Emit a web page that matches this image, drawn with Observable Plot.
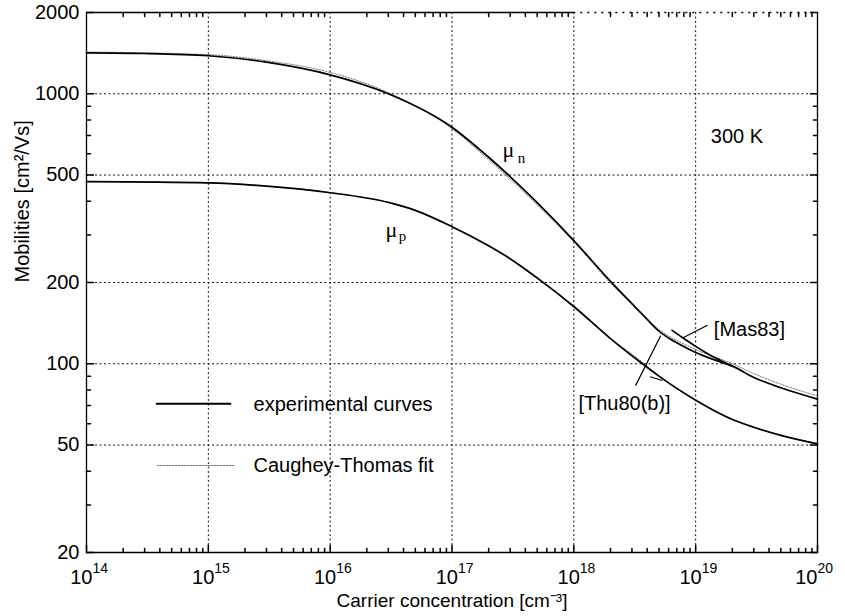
<!DOCTYPE html>
<html>
<head>
<meta charset="utf-8">
<script src="https://cdn.jsdelivr.net/npm/d3@7"></script>
<script src="https://cdn.jsdelivr.net/npm/@observablehq/plot@0.6"></script>
<style>
  html, body { margin: 0; padding: 0; background: #fff; }
  #chart svg { display: block; }
</style>
</head>
<body>
<div id="chart"></div>
<script>
// Electron mobility, experimental curve [Thu80(b)] (cm^2/Vs) vs carrier concentration (cm^-3)
const electronConc = [1e14, 3e14, 1e15, 3e15, 1e16, 3e16, 1e17, 2e17, 5e17, 1e18, 2e18, 3e18, 4e18, 5e18, 6e18, 7.5e18, 1e19, 1.6e19, 2e19, 3e19, 5e19, 1e20];
const electronMu   = [1417, 1410, 1383, 1309, 1175, 1000, 752, 582, 395, 286, 202, 167, 146, 132, 124.5, 117.5, 110, 101.5, 98, 89, 81.5, 74];

// Electron mobility, experimental curve [Mas83], heavy-doping branch
const masConc = [6.4e18, 8e18, 1e19, 1.3e19, 1.7e19, 2e19];
const masMu   = [133, 124, 116, 108, 101.5, 98];

// Hole mobility, experimental curve
const holeConc = [1e14, 1e15, 3e15, 1e16, 3e16, 5e16, 1e17, 2e17, 3e17, 5e17, 1e18, 2e18, 3.5e18, 5e18, 1e19, 2e19, 3e19, 5e19, 1e20];
const holeMu   = [473, 468, 455, 430, 396, 370, 322, 273.5, 245, 208, 163, 124, 101.5, 90, 73.3, 62.2, 58.2, 54.3, 50.5];

// Caughey-Thomas fits
const fitConc     = [1e14, 1e15, 3e15, 1e16, 3e16, 1e17, 2e17, 5e17, 1e18, 2e18, 3e18, 5e18, 1e19, 2e19, 3e19, 5e19, 1e20];
const fitElectron = [1428, 1396, 1326, 1200, 1010, 742, 570, 388, 283, 199, 166, 134, 113, 100, 92, 84, 76];
const fitHoleConc = [1e14, 1e15, 3e15, 1e16, 3e16, 5e16, 1e17, 2e17, 3e17, 5e17, 1e18, 2e18, 3.5e18, 5e18, 1e19, 2e19, 3e19, 5e19, 1e20];
const fitHole     = [473, 468, 455, 431, 396, 369, 321, 272.5, 244, 207, 162, 124, 103, 90, 73.5, 62.4, 58.2, 54.3, 50.6];

// Axes: decade exponents, grid values, tick values
const xExponents = [14, 15, 16, 17, 18, 19, 20];
const xGrid = [1e15, 1e16, 1e17, 1e18, 1e19];
const xMinor = d3.range(14, 20).flatMap(e => d3.range(2, 10).map(k => k * 10 ** e));
const yLabels = [20, 50, 100, 200, 500, 1000, 2000];
const yGrid = [50, 100, 200, 500, 1000];
const yMinor = [30, 40, 60, 70, 80, 90, 300, 400, 600, 700, 800, 900];

// Annotations (data coordinates)
const legendSolid  = [{n: 3.76e14, mu: 71.1}, {n: 1.52e15, mu: 71.1}];
const legendDotted = [{n: 3.83e14, mu: 42}, {n: 1.67e15, mu: 42}];
const legendText   = [{n: 2.35e15, mu: 67.1, text: "experimental curves"}, {n: 2.35e15, mu: 39.6, text: "Caughey-Thomas fit"}];
const notes        = [{n: 1.33e19, mu: 655, text: "300 K"}, {n: 1.41e19, mu: 127, text: "[Mas83]"}, {n: 1.09e18, mu: 67.7, text: "[Thu80(b)]"}];
const leaders = [
  {n1: 1.25e19, mu1: 139, n2: 7.8e18, mu2: 124.6},   // [Mas83]
  {n1: 3.21e18, mu1: 83, n2: 5.16e18, mu2: 127},     // [Thu80(b)] -> electrons
  {n1: 4.22e18, mu1: 89.5, n2: 5.33e18, mu2: 86.7}   // [Thu80(b)] -> holes
];
const muLetters = [{n: 2.6e17, mu: 581}, {n: 2.85e16, mu: 294}];
const muSubs    = [{n: 3.46e17, mu: 554, text: "n"}, {n: 3.65e16, mu: 286, text: "p"}];

const rows = (xs, ys) => xs.map((n, i) => ({n, mu: ys[i]}));

// short straight tick drawn along the vector direction
const tickShape = {draw(context, l) { context.moveTo(0, 0); context.lineTo(0, -l); }};

const serif = "'Liberation Serif', 'Times New Roman', serif";

const chart = Plot.plot({
  width: 845,
  height: 616,
  marginLeft: 86,
  marginRight: 28,
  marginTop: 12,
  marginBottom: 64,
  style: {fontFamily: "'Liberation Sans', Arial, Helvetica, sans-serif", background: "#fff", color: "#000"},
  x: {type: "log", domain: [1e14, 1e20], axis: null},
  y: {type: "log", domain: [20, 2000], axis: null},
  marks: [
    // dotted grid
    Plot.ruleX(xGrid, {stroke: "#111", strokeWidth: 1, strokeDasharray: "2,2.5"}),
    Plot.ruleY(yGrid, {stroke: "#111", strokeWidth: 1, strokeDasharray: "2,2.5"}),

    // frame
    Plot.ruleX([1e14], {stroke: "#000", strokeWidth: 1.3}),
    Plot.ruleX([1e20], {stroke: "#000", strokeWidth: 1.3}),
    Plot.ruleY([20], {stroke: "#000", strokeWidth: 1.3}),
    Plot.ruleY([2000], {x1: 1e14, x2: 1e18, stroke: "#000", strokeWidth: 1.3}),
    Plot.ruleY([2000], {x1: 1e18, x2: 1e20, stroke: "#000", strokeWidth: 1.3, strokeDasharray: "2,5"}),

    // inward ticks
    Plot.vectorY(yMinor, {frameAnchor: "left", rotate: 90, length: 4, anchor: "start", shape: tickShape, stroke: "#000"}),
    Plot.vectorY(yMinor, {frameAnchor: "right", rotate: -90, length: 4, anchor: "start", shape: tickShape, stroke: "#000"}),
    Plot.vectorY(yLabels, {frameAnchor: "left", rotate: 90, length: 7, anchor: "start", shape: tickShape, stroke: "#000"}),
    Plot.vectorY(yLabels, {frameAnchor: "right", rotate: -90, length: 7, anchor: "start", shape: tickShape, stroke: "#000"}),
    Plot.vectorX(xMinor, {frameAnchor: "bottom", rotate: 0, length: 4, anchor: "start", shape: tickShape, stroke: "#000"}),
    Plot.vectorX(xMinor, {frameAnchor: "top", rotate: 180, length: 4, anchor: "start", shape: tickShape, stroke: "#000"}),
    Plot.vectorX(xExponents.map(e => 10 ** e), {frameAnchor: "bottom", rotate: 0, length: 7, anchor: "start", shape: tickShape, stroke: "#000"}),

    // tick labels
    Plot.text(yLabels, {y: d => d, frameAnchor: "left", text: d => String(d), textAnchor: "end", dx: -7, fontSize: 20}),
    Plot.text(xExponents.slice(0, -1), {x: d => 10 ** d, frameAnchor: "bottom", text: () => "10", textAnchor: "end", lineAnchor: "bottom", dx: 6, dy: 31, fontSize: 20}),
    Plot.text(xExponents.slice(0, -1), {x: d => 10 ** d, frameAnchor: "bottom", text: d => String(d), textAnchor: "start", lineAnchor: "bottom", dx: 6, dy: 20, fontSize: 14}),
    Plot.text(xExponents.slice(-1), {x: d => 10 ** d, frameAnchor: "bottom", text: () => "10", textAnchor: "end", lineAnchor: "bottom", dx: 0, dy: 31, fontSize: 20}),
    Plot.text(xExponents.slice(-1), {x: d => 10 ** d, frameAnchor: "bottom", text: d => String(d), textAnchor: "start", lineAnchor: "bottom", dx: 0, dy: 20, fontSize: 14}),

    // axis titles
    Plot.text(["Mobilities [cm²/Vs]"], {frameAnchor: "left", rotate: -90, dx: -64, fontSize: 20}),
    Plot.text(["Carrier concentration [cm⁻³]"], {frameAnchor: "bottom", lineAnchor: "bottom", dy: 54, fontSize: 19}),

    // Caughey-Thomas fits (dotted)
    Plot.line(rows(fitHoleConc, fitHole), {x: "n", y: "mu", stroke: "#777", strokeWidth: 1, strokeDasharray: "1.5,1.5", curve: "monotone-x"}),
    Plot.line(rows(fitConc, fitElectron), {x: "n", y: "mu", stroke: "#777", strokeWidth: 1, strokeDasharray: "1.5,1.5", curve: "monotone-x"}),

    // experimental curves
    Plot.line(rows(holeConc, holeMu), {x: "n", y: "mu", stroke: "#000", strokeWidth: 1.7, curve: "monotone-x"}),
    Plot.line(rows(electronConc, electronMu), {x: "n", y: "mu", stroke: "#000", strokeWidth: 1.7, curve: "monotone-x"}),
    Plot.line(rows(masConc, masMu), {x: "n", y: "mu", stroke: "#000", strokeWidth: 1.7, curve: "monotone-x"}),

    // curve labels
    Plot.text(muLetters, {x: "n", y: "mu", text: () => "μ", textAnchor: "start", lineAnchor: "bottom", fontFamily: serif, fontSize: 22}),
    Plot.text(muSubs, {x: "n", y: "mu", text: "text", textAnchor: "start", lineAnchor: "bottom", fontFamily: serif, fontSize: 15}),

    // reference notes and leader lines
    Plot.link(leaders, {x1: "n1", y1: "mu1", x2: "n2", y2: "mu2", stroke: "#000", strokeWidth: 1.2}),
    Plot.text(notes, {x: "n", y: "mu", text: "text", textAnchor: "start", lineAnchor: "bottom", fontSize: 20}),

    // legend
    Plot.line(legendSolid, {x: "n", y: "mu", stroke: "#000", strokeWidth: 1.8}),
    Plot.line(legendDotted, {x: "n", y: "mu", stroke: "#777", strokeWidth: 1.2, strokeDasharray: "1.5,1.5"}),
    Plot.text(legendText, {x: "n", y: "mu", text: "text", textAnchor: "start", lineAnchor: "bottom", fontSize: 20})
  ]
});

document.getElementById("chart").append(chart);
</script>
</body>
</html>
